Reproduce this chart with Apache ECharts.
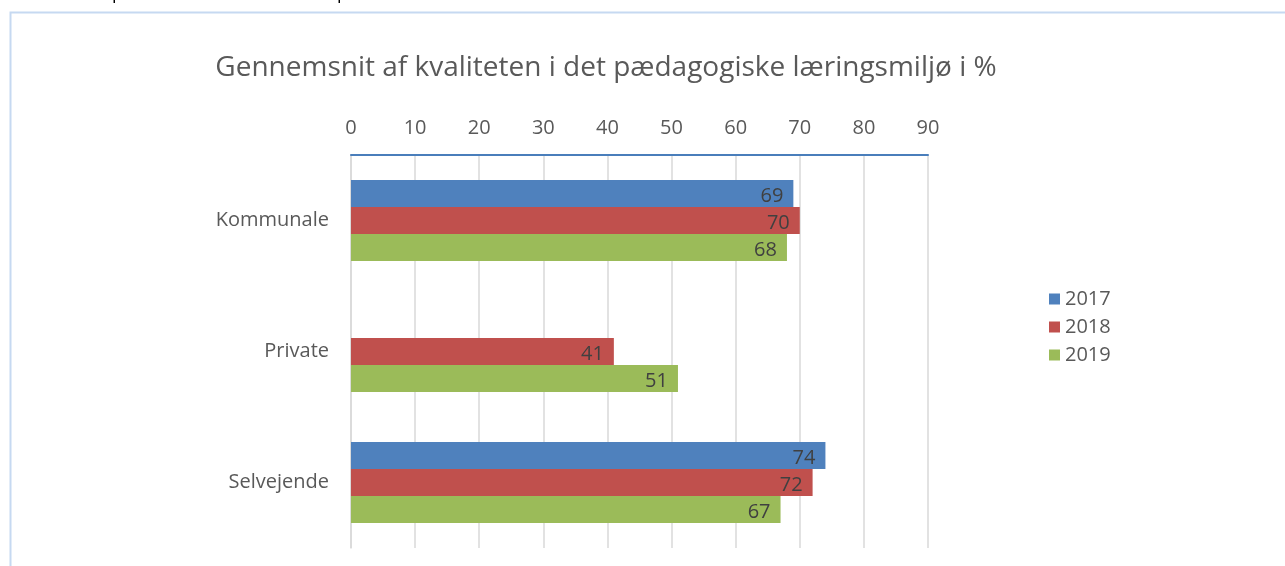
<!DOCTYPE html>
<html>
<head>
<meta charset="utf-8">
<script src="https://cdn.jsdelivr.net/npm/echarts@6/dist/echarts.min.js"></script>
<style>
  html, body { margin: 0; padding: 0; background: #fff; }
  #main { width: 1285px; height: 566px; }
</style>
</head>
<body>
<div id="main"></div>
<script>
var categories = ['Kommunale', 'Private', 'Selvejende'];
var years = ['2017', '2018', '2019'];
var values2017 = [69, null, 74];
var values2018 = [70, 41, 72];
var values2019 = [68, 51, 67];
var xTicks = [0, 10, 20, 30, 40, 50, 60, 70, 80, 90];

var colors = ['#4f81bd', '#c0504d', '#9bbb59'];
var font = '"Open Sans", "Noto Sans", sans-serif';

var myChart = echarts.init(document.getElementById('main'));

function bar (name, data, i) {
  return {
    name: name,
    type: 'bar',
    data: data,
    barWidth: 27,
    barGap: '0%',
    itemStyle: { color: colors[i] },
    label: {
      show: true,
      position: 'insideRight',
      distance: 10,
      offset: [0, 3],
      color: '#404040',
      fontSize: 20,
      fontFamily: font
    }
  }
}

var option = {
  animation: false,
  color: colors,
  title: {
    text: 'Gennemsnit af kvaliteten i det pædagogiske læringsmiljø i %',
    left: 601,
    textAlign: 'center',
    top: 49,
    textStyle: { fontSize: 28, fontWeight: 'normal', color: '#595959', fontFamily: font }
  },
  legend: {
    data: years,
    orient: 'vertical',
    left: 1044,
    top: 284,
    itemWidth: 11,
    itemHeight: 11,
    itemGap: 8,
    icon: 'rect',
    textStyle: { fontSize: 20, color: '#595959', fontFamily: font }
  },
  grid: { left: 351, top: 155, width: 577, height: 393, containLabel: false },
  xAxis: {
    type: 'value',
    position: 'top',
    min: 0,
    max: 90,
    interval: 10,
    axisLine: { show: true, lineStyle: { color: '#4a7ebb', width: 2 } },
    axisTick: { show: false },
    axisLabel: { color: '#595959', fontSize: 20, fontFamily: font, margin: 17 },
    splitLine: { lineStyle: { color: '#d9d9d9', width: 1.5 } }
  },
  yAxis: {
    type: 'category',
    data: categories,
    inverse: true,
    axisLine: { show: true, lineStyle: { color: '#d9d9d9', width: 1.5 } },
    axisTick: { show: false },
    axisLabel: { color: '#595959', fontSize: 20, fontFamily: font, margin: 22, padding: [6, 0, 0, 0] }
  },
  graphic: [
    {
      type: 'rect',
      shape: { x: 10.5, y: 12.5, width: 1400, height: 700 },
      style: { fill: 'none', stroke: '#c6d9f1', lineWidth: 2 }
    },
    // cut-off text from the page above the chart, only descenders show
    { type: 'text', left: 112, top: -15, style: { text: 'p', fontSize: 18, fill: '#000', fontFamily: font } },
    { type: 'text', left: 337, top: -15, style: { text: 'p', fontSize: 18, fill: '#000', fontFamily: font } }
  ],
  series: [
    bar(years[0], values2017, 0),
    bar(years[1], values2018, 1),
    bar(years[2], values2019, 2)
  ]
};

myChart.setOption(option);
</script>
</body>
</html>
